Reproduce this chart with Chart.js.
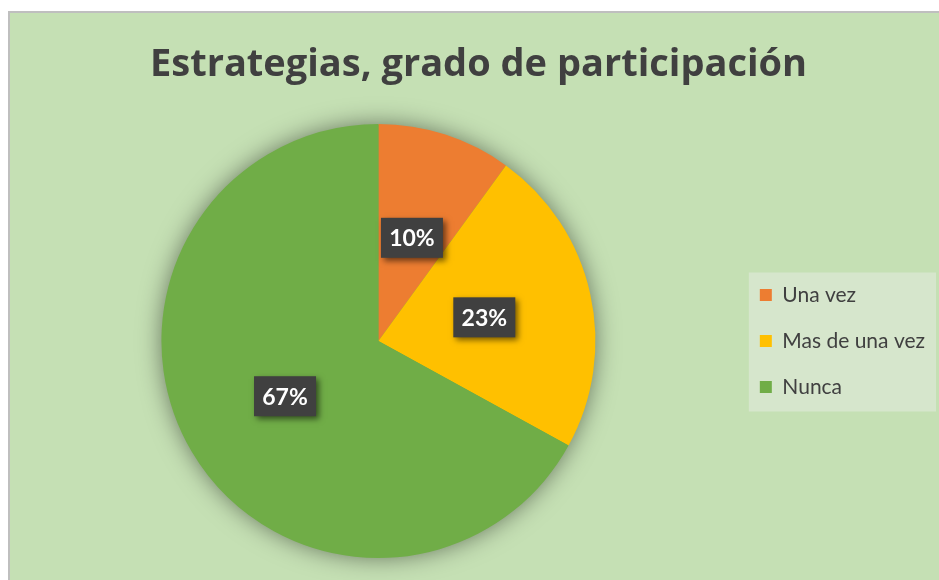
<!DOCTYPE html>
<html>
<head>
<meta charset="utf-8">
<script src="https://cdn.jsdelivr.net/npm/chart.js@4"></script>
<style>
  html, body { margin: 0; padding: 0; background: #ffffff; }
  #wrap { width: 939px; height: 580px; position: relative; }
</style>
</head>
<body>
<div id="wrap"><canvas id="pieChart" width="939" height="580"></canvas></div>
<script>
const chartTitle = "Estrategias, grado de participación";
const categories = ["Una vez", "Mas de una vez", "Nunca"];
const percentages = [10, 23, 67];
const sliceColors = ["#ED7D31", "#FFC000", "#70AD47"];

// frame + green background, legend panel behind the legend
const backgroundPlugin = {
  id: "bgPanel",
  beforeDraw(chart) {
    const c = chart.ctx;
    c.save();
    c.fillStyle = "#ffffff";
    c.fillRect(0, 0, chart.width, chart.height);
    c.fillStyle = "#BFBFBF";
    c.fillRect(8, 11, chart.width - 8, chart.height - 11);
    c.fillStyle = "#C5E0B4";
    c.fillRect(10, 13, chart.width - 10, chart.height - 13);

    const lg = chart.legend;
    if (lg && lg.legendHitBoxes && lg.legendHitBoxes.length) {
      const first = lg.legendHitBoxes[0];
      const last = lg.legendHitBoxes[lg.legendHitBoxes.length - 1];
      c.fillStyle = "#D6E6CC";
      const x = first.left - 11;
      const y = first.top - 12;
      c.fillRect(x, y, 936 - x, last.top + last.height + 14 - y);
    }
    c.restore();
  },
  beforeDatasetsDraw(chart) {
    // soft glow under the pie
    const arc = chart.getDatasetMeta(0).data[0];
    if (!arc) return;
    const c = chart.ctx;
    c.save();
    c.shadowColor = "rgba(0,0,0,0.5)";
    c.shadowBlur = 24;
    c.fillStyle = "#70AD47";
    c.beginPath();
    c.arc(arc.x, arc.y, arc.outerRadius - 1, 0, Math.PI * 2);
    c.fill();
    c.restore();
  },
};

// dark boxes with the percentage
const valueBoxes = {
  id: "valueBoxes",
  afterDatasetsDraw(chart) {
    const c = chart.ctx;
    const meta = chart.getDatasetMeta(0);
    meta.data.forEach((arc, i) => {
      const p = arc.tooltipPosition();
      const w = 62, h = 40;
      c.save();
      c.shadowColor = "rgba(0,0,0,0.55)";
      c.shadowBlur = 6;
      c.shadowOffsetX = 3;
      c.shadowOffsetY = 3;
      c.fillStyle = "#404040";
      c.fillRect(p.x - w / 2, p.y - h / 2, w, h);
      c.restore();
      c.save();
      c.fillStyle = "#ffffff";
      c.font = "bold 23px Lato";
      c.textAlign = "center";
      c.textBaseline = "middle";
      c.fillText(percentages[i] + "%", p.x, p.y + 1);
      c.restore();
    });
  },
};

new Chart(document.getElementById("pieChart"), {
  type: "pie",
  data: {
    labels: categories,
    datasets: [
      {
        data: percentages,
        backgroundColor: sliceColors,
        borderWidth: 0,
      },
    ],
  },
  options: {
    responsive: false,
    animation: false,
    layout: {
      padding: { top: 13, left: 22, right: 4, bottom: 22 },
    },
    plugins: {
      title: {
        display: true,
        text: chartTitle,
        color: "#404040",
        font: { family: "Open Sans", size: 38, weight: "bold", lineHeight: 1.2 },
        padding: { top: 29, bottom: 36.4 },
      },
      legend: {
        position: "right",
        title: {
          display: true,
          text: " ",
          font: { size: 12, lineHeight: 1.2 },
          padding: { top: 0, bottom: 96.6 },
        },
        labels: {
          boxWidth: 12,
          boxHeight: 12,
          padding: 25,
          color: "#404040",
          font: { family: "Lato", size: 21 },
        },
      },
      tooltip: { enabled: false },
    },
  },
  plugins: [backgroundPlugin, valueBoxes],
});
</script>
</body>
</html>
